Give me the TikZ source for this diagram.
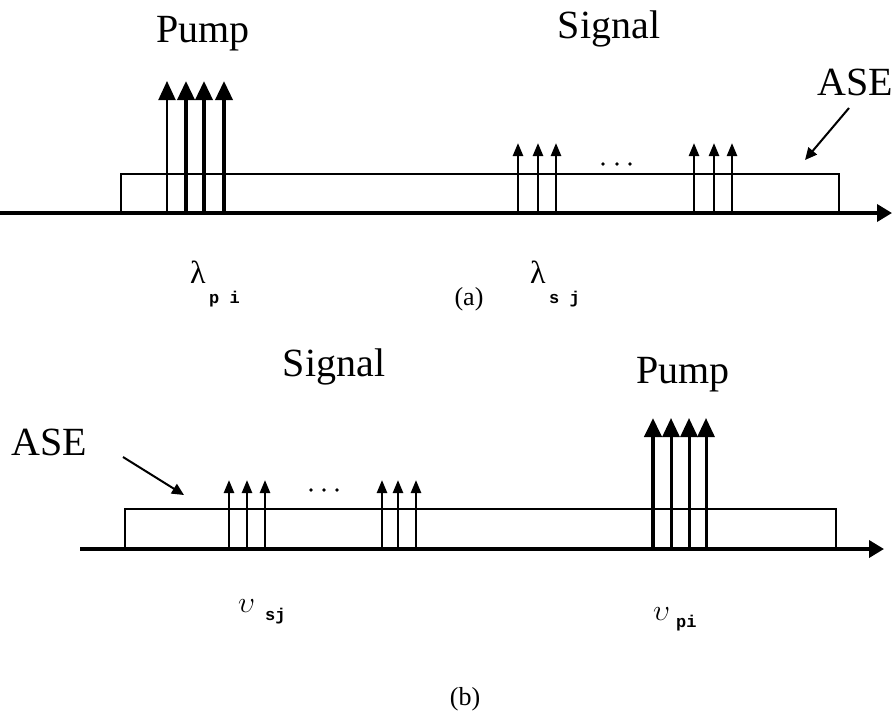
\RequirePackage{fix-cm}
\documentclass[tikz,border=0pt]{standalone}
\usepackage{fontspec}
\setmainfont{Liberation Serif}
\setmonofont{Liberation Mono}
\usetikzlibrary{arrows.meta}

\begin{document}
\begin{tikzpicture}[
    x=1pt, y=-1pt,
    axis/.style={-{Triangle[width=17pt,length=15pt]}, line width=3.6pt},
    band/.style={line width=2.6pt},
    pumpline/.style={-{Triangle[width=17pt,length=19pt]}, line width=3.6pt},
    signalline/.style={-{Triangle[width=10pt,length=13pt]}, line width=2.4pt},
    pointer/.style={-{Triangle[width=11pt,length=12pt]}, line width=2pt},
    dot/.style={circle, fill, inner sep=0pt, minimum size=3.6pt},
    title/.style={font=\fontsize{40}{48}\selectfont, anchor=base, inner sep=0pt},
    caption/.style={font=\fontsize{26}{30}\selectfont, anchor=base, inner sep=0pt},
    freq/.style={font=\fontsize{32}{36}\selectfont, anchor=base west, inner sep=0pt},
    sub/.style={font=\fontsize{17}{20}\selectfont\ttfamily\bfseries, anchor=base west, inner sep=0pt}
  ]
    \useasboundingbox[fill=white] (0,0) rectangle (893,718);

    % (a) wavelength picture
    \coordinate (axisA start) at (0,213);
    \coordinate (axisA end) at (892,213);
    \draw[band] (121,213) |- (839,174) -- (839,213);
    \draw[axis] (axisA start) -- (axisA end);

    \draw[pumpline, line width=2pt] (167,213) -- (167,81);
    \foreach \x in {186,204,224}
      \draw[pumpline] (\x,213) -- (\x,81);
    \foreach \x in {518,538,556,694,714,732}
      \draw[signalline] (\x,213) -- (\x,143);
    \foreach \x in {603,617,630}
      \node[dot] at (\x,164) {};

    \node[title] (pumpA) at (203,42) {Pump};
    \node[title] (signalA) at (609,38) {Signal};
    \node[title] (aseA) at (855,95) {ASE};
    \coordinate (aseA tail) at (849,108);
    \coordinate (aseA head) at (805,160);
    \draw[pointer] (aseA tail) -- (aseA head);

    \node[freq] (lamP) at (190,283) {λ};
    \node[sub] (lamPsub) at (209,303) {p i};
    \node[freq] (lamS) at (530,283) {λ};
    \node[sub] (lamSsub) at (549,303) {s j};
    \node[caption] (capA) at (469,305) {(a)};

    % (b) frequency picture
    \coordinate (axisB start) at (80,549);
    \coordinate (axisB end) at (884,549);
    \draw[band] (125,549) |- (836,509) -- (836,549);
    \draw[axis] (axisB start) -- (axisB end);

    \draw[pumpline, line width=4.2pt] (653,549) -- (653,418);
    \foreach \x in {671,689,706}
      \draw[pumpline, line width=3pt] (\x,549) -- (\x,418);
    \foreach \x in {229,247,265,382,398,416}
      \draw[signalline] (\x,549) -- (\x,480);
    \foreach \x in {311,324,337}
      \node[dot] at (\x,490) {};

    \node[title] (signalB) at (334,376) {Signal};
    \node[title] (pumpB) at (683,383) {Pump};
    \node[title] (aseB) at (49,455) {ASE};
    \coordinate (aseB tail) at (123,457);
    \coordinate (aseB head) at (184,495);
    \draw[pointer] (aseB tail) -- (aseB head);

    \node[freq, font=\fontsize{30}{34}\selectfont] (nuS) at (238,612) {$\upsilon$};
    \node[sub] (nuSsub) at (265,620) {sj};
    \node[freq, font=\fontsize{30}{34}\selectfont] (nuP) at (653,620) {$\upsilon$};
    \node[sub] (nuPsub) at (676,627) {pi};
    \node[caption] (capB) at (465,705) {(b)};
\end{tikzpicture}
\end{document}
